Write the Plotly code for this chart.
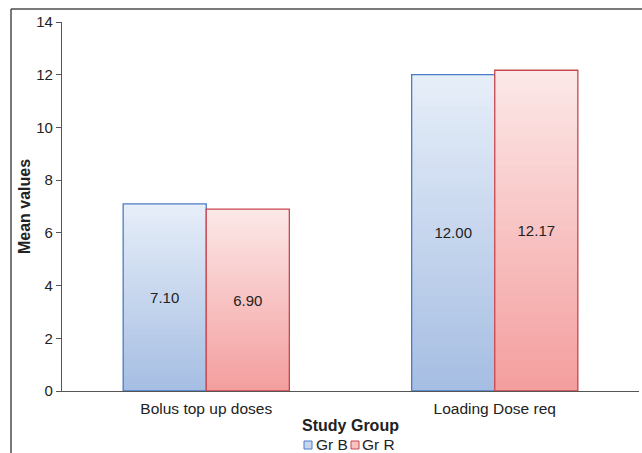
import plotly.graph_objects as go

# Data
categories = ["Bolus top up doses", "Loading Dose req"]
gr_b = [7.10, 12.00]
gr_r = [6.90, 12.17]
series_names = ["Gr B", "Gr R"]
y_ticks = [0, 2, 4, 6, 8, 10, 12, 14]

FONT = "Liberation Sans, Arial, Helvetica, sans-serif"
BAR_W = 0.288
N_STEPS = 60

styles = {
    "Gr B": dict(top=(230, 238, 248), bottom=(166, 190, 227), line="#4a7dc6", offset=-BAR_W),
    "Gr R": dict(top=(252, 232, 232), bottom=(244, 158, 158), line="#c8474e", offset=0.0),
}


def mix(c1, c2, t):
    return "rgb(%d,%d,%d)" % tuple(round(a + (b - a) * t) for a, b in zip(c1, c2))


fig = go.Figure()

for name, values in zip(series_names, [gr_b, gr_r]):
    st = styles[name]
    # vertical gradient: stacked overlays, each shorter and darker than the last
    for i in range(N_STEPS):
        frac = (N_STEPS - i) / N_STEPS
        fig.add_trace(go.Bar(
            x=categories,
            y=[v * frac for v in values],
            width=BAR_W, offset=st["offset"],
            marker=dict(color=mix(st["top"], st["bottom"], i / (N_STEPS - 1)), line=dict(width=0)),
            showlegend=False, hoverinfo="skip",
        ))
    # outline and value labels
    fig.add_trace(go.Bar(
        x=categories, y=values, name=name,
        width=BAR_W, offset=st["offset"],
        marker=dict(color="rgba(0,0,0,0)", line=dict(color=st["line"], width=1.3)),
        text=["%.2f" % v for v in values],
        textposition="inside", insidetextanchor="middle", textangle=0,
        textfont=dict(family=FONT, size=15, color="#222222"),
        showlegend=False,
    ))

# legend: small gradient-coloured squares with labels below the axis title
legend_items = [("Gr B", 304, 314), ("Gr R", 351, 360)]
L, T, PW, PH = 62, 22, 577, 369


def px_x(px):
    return (px - L) / PW


def px_y(py):
    return (T + PH - py) / PH


shapes = []
annotations = []
for name, sx, tx in legend_items:
    st = styles[name]
    shapes.append(dict(
        type="rect", xref="paper", yref="paper",
        x0=px_x(sx), x1=px_x(sx + 8), y0=px_y(449), y1=px_y(441),
        fillcolor=mix(st["top"], st["bottom"], 0.5), line=dict(color=st["line"], width=1),
    ))
    annotations.append(dict(
        text=name, xref="paper", yref="paper", x=px_x(tx), y=px_y(445),
        xanchor="left", yanchor="middle", showarrow=False,
        font=dict(family=FONT, size=15.5, color="#222222"),
    ))

# outer frame (top and left edges)
shapes.append(dict(type="line", xref="paper", yref="paper",
                   x0=px_x(11), x1=px_x(660), y0=px_y(9), y1=px_y(9),
                   line=dict(color="#4d4d4d", width=1.5)))
shapes.append(dict(type="line", xref="paper", yref="paper",
                   x0=px_x(11), x1=px_x(11), y0=px_y(9), y1=px_y(470),
                   line=dict(color="#4d4d4d", width=1.5)))

fig.update_layout(
    width=642, height=453,
    margin=dict(l=L, r=642 - L - PW, t=T, b=453 - T - PH),
    barmode="overlay",
    plot_bgcolor="white", paper_bgcolor="white",
    font=dict(family=FONT, size=15, color="#222222"),
    shapes=shapes, annotations=annotations,
    showlegend=False,
    xaxis=dict(
        type="category", range=[-0.5, 1.5],
        showline=True, linecolor="#555555", linewidth=1.2,
        ticks="", showgrid=False, ticklabelstandoff=3,
        tickfont=dict(family=FONT, size=15.5, color="#222222"),
        title=dict(text="<b>Study Group</b>", font=dict(family=FONT, size=16, color="#222222"), standoff=4),
        automargin=False,
    ),
    yaxis=dict(
        range=[0, 14], tickvals=y_ticks,
        showline=True, linecolor="#555555", linewidth=1.2,
        ticks="outside", ticklen=5, tickcolor="#555555",
        showgrid=False, zeroline=False,
        tickfont=dict(family=FONT, size=15, color="#222222"),
        title=dict(text="<b>Mean values</b>", font=dict(family=FONT, size=16, color="#222222"), standoff=1),
        automargin=False,
    ),
)

fig.write_html("out.html")
